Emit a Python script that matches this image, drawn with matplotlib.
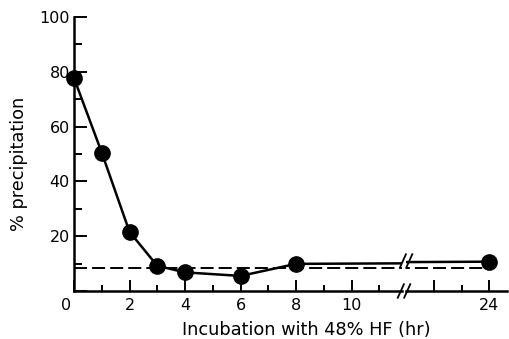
import matplotlib.pyplot as plt
import matplotlib.transforms as mtransforms
import numpy as np

# data
hours = np.array([0, 1, 2, 3, 4, 6, 8, 24])
precip = np.array([77.7, 50.5, 21.6, 9.2, 6.8, 5.5, 9.9, 10.7])
baseline_x = [0, 24]
baseline_y = [8.5, 8.5]

fig = plt.figure(figsize=(5.09, 3.39), dpi=100)
ax1 = fig.add_axes([0.1454, 0.1416, 0.6444, 0.8083])
ax2 = fig.add_axes([0.7976, 0.1416, 0.1984, 0.8083], sharey=ax1)

for ax in (ax1, ax2):
    ax.plot(hours, precip, color='black', lw=1.8, zorder=3)
    ax.plot(baseline_x, baseline_y, color='black', lw=1.4,
            dashes=(6.7, 2.6), zorder=2)
    for side in ('top', 'right'):
        ax.spines[side].set_visible(False)
    ax.spines['bottom'].set_linewidth(1.8)
    ax.tick_params(which='both', direction='in', width=1.4, labelsize=11.5,
                   colors='black')
    ax.tick_params(which='major', length=8)
    ax.tick_params(which='minor', length=4.5)

near = hours <= 12
far = hours >= 20
ax1.plot(hours[near], precip[near], 'o', color='black', ms=11,
         clip_on=False, zorder=4)
ax2.plot(hours[far], precip[far], 'o', color='black', ms=11,
         clip_on=False, zorder=4)

ax1.set_xlim(0, 11.82)
ax2.set_xlim(20.97, 24.65)
ax1.set_ylim(0, 100)

ax1.spines['left'].set_linewidth(1.8)
ax1.set_xticks([0, 2, 4, 6, 8, 10])
ax1.set_xticks(np.arange(1, 12, 2), minor=True)
ax1.set_yticks(np.arange(0, 101, 20))
ax1.set_yticks(np.arange(10, 100, 20), minor=True)
ax1.set_yticklabels(['', '20', '40', '60', '80', '100'])
ax1.tick_params(axis='y', which='major', length=9, pad=3)
ax1.tick_params(axis='y', which='minor', length=6)
ax1.tick_params(axis='x', pad=5)

# the "0" sits a little left of the corner
zero = ax1.get_xticklabels()[0]
zero.set_transform(zero.get_transform() +
                   mtransforms.ScaledTranslation(-8 / 100, 0, fig.dpi_scale_trans))

ax2.spines['left'].set_visible(False)
ax2.tick_params(axis='y', which='both', left=False, labelleft=False)
ax2.set_xticks([22, 24])
ax2.set_xticklabels(['', '24'])
ax2.set_xticks([23], minor=True)
ax2.tick_params(axis='x', pad=5)

ax1.set_ylabel('% precipitation', fontsize=12.8)
ax1.yaxis.set_label_coords(-0.140, 0.464)
fig.text(0.601, 0.027, 'Incubation with 48% HF (hr)', ha='center',
         va='center', fontsize=12.8)

# break marks on axis and on the lines
kw = dict(color='black', lw=1.3, clip_on=False)
d = 0.012
for x0 in (0.7875, 0.80):
    fig.add_artist(plt.Line2D([x0 - d / 2, x0 + d / 2],
                              [0.1416 - 0.02, 0.1416 + 0.02], **kw))
    fig.add_artist(plt.Line2D([x0 - d / 2 + 0.004, x0 + d / 2 + 0.004],
                              [0.21, 0.25], **kw))

plt.savefig('out.png', dpi=100)
